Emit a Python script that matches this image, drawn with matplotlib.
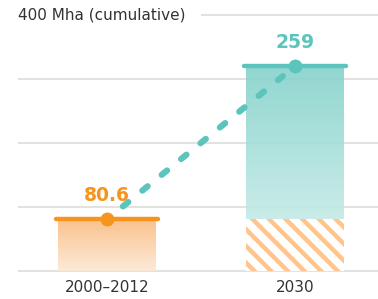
import numpy as np
import matplotlib.pyplot as plt
from matplotlib.patches import Rectangle

categories = ["2000\u20132012", "2030"]
bar_tops = [80.6, 320]          # drawn heights (Mha, cumulative)
base_part = [0, 80.6]           # hatched portion carried over
value_labels = ["80.6", "259"]
grid_vals = [0, 100, 200, 300, 400]

orange = "#F7941D"
teal = "#5BC5BD"
grid_c = "#E3E3DD"

plt.rcParams['font.family'] = ['DejaVu Sans']
plt.rcParams['hatch.linewidth'] = 3.2

fig = plt.figure(figsize=(3.78, 2.99), dpi=100)
ax = fig.add_axes([18 / 378, 28 / 299, 360 / 378, 256 / 299])
ax.set_xlim(-0.473, 1.441)
ax.set_ylim(0, 400)
ax.axis('off')

# grid lines (under the translucent bars)
for g in grid_vals:
    x0 = -0.473 if g < 400 else 0.5
    ax.plot([x0, 1.441], [g, g], color=grid_c, lw=1.5, zorder=0,
            solid_capstyle='butt', clip_on=False)

w = 0.52


def gradient_bar(x, y0, y1, c_top, c_bot):
    top = np.array(plt.matplotlib.colors.to_rgb(c_top))
    bot = np.array(plt.matplotlib.colors.to_rgb(c_bot))
    t = np.linspace(0, 1, 100)[:, None]
    img = (top * (1 - t) + bot * t)[:, None, :]
    ax.imshow(img, extent=[x - w / 2, x + w / 2, y0, y1], aspect='auto',
              origin='upper', zorder=1, interpolation='bilinear', alpha=0.9)


# orange bar
gradient_bar(0, 0, bar_tops[0], "#FABB80", "#FDE8D4")
# teal bar: hatched base + gradient
gradient_bar(1, base_part[1], bar_tops[1], "#84D2CB", "#C4EAE6")
ax.add_patch(Rectangle((1 - w / 2, 0), w, base_part[1], facecolor='white',
                       edgecolor='#FFC58A', hatch='\\\\', lw=0, zorder=1))

colors = [orange, teal]
for i, (top, lab, c) in enumerate(zip(bar_tops, value_labels, colors)):
    ax.plot([i - w / 2 - 0.01, i + w / 2 + 0.01], [top, top], color=c, lw=3.2,
            solid_capstyle='round', zorder=5)
    ax.plot(i, top, 'o', color=c, ms=9, zorder=6)
    ax.text(i, top + 37, lab, color=c, fontsize=13.5, fontweight='bold',
            ha='center', va='center', zorder=6)
    ax.text(i, -25, categories[i], color='#333333', fontsize=11,
            ha='center', va='center')

# dashed connector
t0, t1 = 0.085, 0.935
xs = np.array([0, 1])
ys = np.array(bar_tops)
ax.plot(xs[0] + (xs[1] - xs[0]) * np.array([t0, t1]),
        ys[0] + (ys[1] - ys[0]) * np.array([t0, t1]),
        color=teal, lw=4.5, ls=(0, (1.1, 2.9)), dash_capstyle='round', zorder=4)

ax.text(-0.473, 400, "400 Mha (cumulative)", color='#333333', fontsize=11,
        ha='left', va='center', clip_on=False)

fig.savefig("out.png", dpi=100)
